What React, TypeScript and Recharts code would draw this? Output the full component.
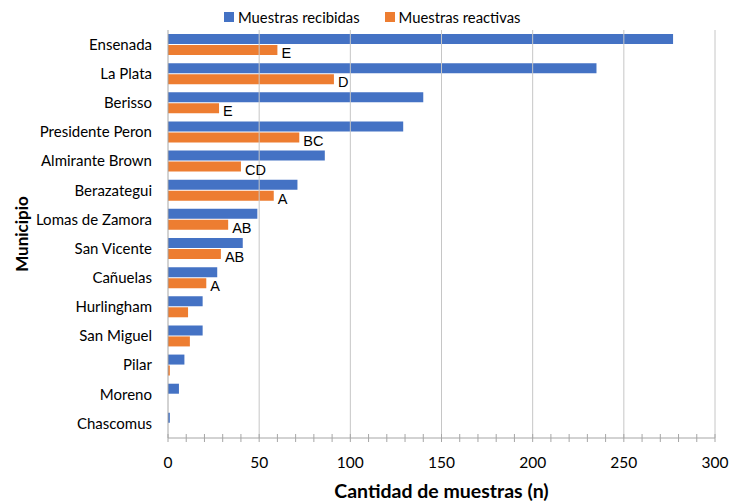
import React from 'react';
import { BarChart, Bar, XAxis, YAxis, ReferenceLine, Legend, LabelList } from 'recharts';

const categories = ['Ensenada', 'La Plata', 'Berisso', 'Presidente Peron', 'Almirante Brown', 'Berazategui', 'Lomas de Zamora', 'San Vicente', 'Cañuelas', 'Hurlingham', 'San Miguel', 'Pilar', 'Moreno', 'Chascomus'];
const recibidas = [277, 235, 140, 129, 86, 71, 49, 41, 27, 19, 19, 9, 6, 1];
const reactivas = [60, 91, 28, 72, 40, 58, 33, 29, 21, 11, 12, 1, 0, 0];
const letras = ['E', 'D', 'E', 'BC', 'CD', 'A', 'AB', 'AB', 'A', '', '', '', '', ''];
const minorTicks = [0, 10, 20, 30, 40, 50, 60, 70, 80, 90, 100, 110, 120, 130, 140, 150, 160, 170, 180, 190, 200, 210, 220, 230, 240, 250, 260, 270, 280, 290, 300];
const gridTicks = [50, 100, 150, 200, 250, 300];

const data = categories.map((name, i) => ({
  name,
  recibidas: recibidas[i],
  reactivas: reactivas[i],
  letra: letras[i],
}));

const BLUE = '#4472C4';
const ORANGE = '#ED7D31';
const FONT = 'Lato, "Open Sans", sans-serif';

const XTick = (props: any) => {
  const { x, y, payload } = props;
  const v = payload.value;
  return (
    <g>
      <line x1={x} x2={x} y1={y - 4} y2={y + 4} stroke="#a6a6a6" strokeWidth={1} />
      {v % 50 === 0 ? (
        <text x={x} y={y + 30} textAnchor="middle" fontFamily={FONT} fontSize={15.5} fill="#000">
          {v}
        </text>
      ) : null}
    </g>
  );
};

const LegendContent = () => (
  <div style={{ display: 'flex', alignItems: 'center', fontFamily: FONT, fontSize: 14.8, lineHeight: '18px', height: 18, color: '#000' }}>
    <span style={{ display: 'inline-block', width: 10, height: 10, background: BLUE, marginRight: 4 }} />
    <span style={{ marginRight: 25 }}>Muestras recibidas</span>
    <span style={{ display: 'inline-block', width: 10, height: 10, background: ORANGE, marginRight: 4 }} />
    <span>Muestras reactivas</span>
  </div>
);

export default function App() {
  return (
    <div style={{ position: 'absolute', left: 0, top: 0, width: 735, height: 503, background: '#fff' }}>
      <BarChart
        width={735}
        height={503}
        data={data}
        layout="vertical"
        margin={{ top: 12, right: 20, bottom: 0, left: 0 }}
        barSize={10}
        barGap={1}
      >
        <XAxis
          type="number"
          domain={[0, 300]}
          ticks={minorTicks}
          interval={0}
          height={65}
          tickLine={false}
          tickSize={0}
          tickMargin={0}
          axisLine={{ stroke: '#a6a6a6' }}
          tick={<XTick />}
          label={{
            value: 'Cantidad de muestras (n)',
            position: 'insideBottom',
            offset: 5,
            style: { fontFamily: FONT, fontSize: 19.5, fontWeight: 700, fill: '#000' },
          }}
        />
        <YAxis
          type="category"
          dataKey="name"
          width={168}
          tickLine={false}
          axisLine={{ stroke: '#a6a6a6' }}
          tickMargin={10}
          interval={0}
          tick={{ fontFamily: FONT, fontSize: 15, fill: '#000' }}
          label={{
            value: 'Municipio',
            angle: -90,
            position: 'insideLeft',
            offset: 22,
            style: { fontFamily: FONT, fontSize: 17, fontWeight: 700, fill: '#000', textAnchor: 'middle' },
          }}
        />
        {gridTicks.map((t) => (
          <ReferenceLine key={t} x={t} stroke="#c6c6c6" strokeWidth={1} ifOverflow="visible" />
        ))}
        <Legend verticalAlign="top" content={<LegendContent />} wrapperStyle={{ top: 8, left: 224, width: 'auto' }} />
        <Bar dataKey="recibidas" name="Muestras recibidas" fill={BLUE} isAnimationActive={false} />
        <Bar dataKey="reactivas" name="Muestras reactivas" fill={ORANGE} isAnimationActive={false}>
          <LabelList
            dataKey="letra"
            position="right"
            offset={4}
            dy={3}
            style={{ fontFamily: '"Liberation Sans", Arial, sans-serif', fontSize: 14.5, fill: '#000' }}
          />
        </Bar>
      </BarChart>
    </div>
  );
}
